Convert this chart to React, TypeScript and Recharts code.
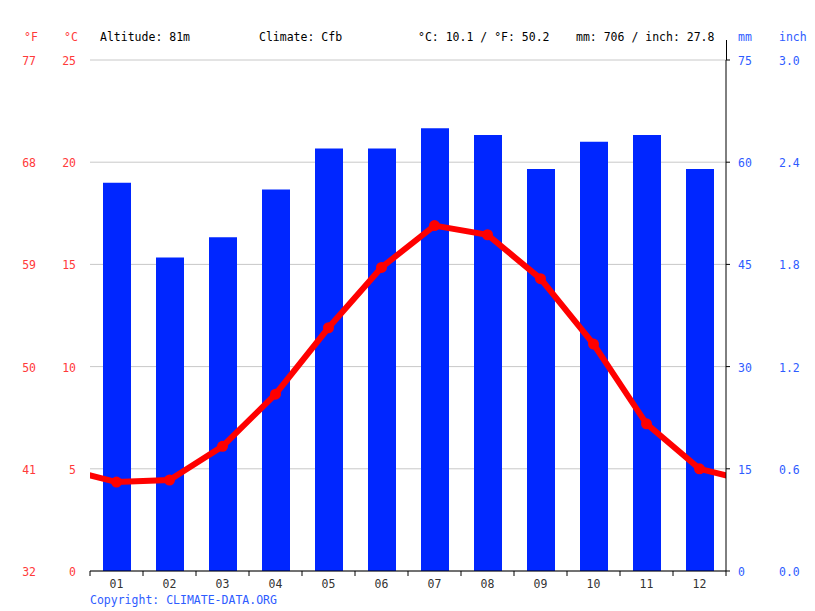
import React from "react";
import {
  ComposedChart,
  Bar,
  Line,
  XAxis,
  YAxis,
  CartesianGrid,
} from "recharts";

const months = ["01", "02", "03", "04", "05", "06", "07", "08", "09", "10", "11", "12"];
const precipMm = [57, 46, 49, 56, 62, 62, 65, 64, 59, 63, 64, 59];
const tempC = [4.35, 4.45, 6.1, 8.65, 11.9, 14.85, 16.9, 16.45, 14.3, 11.1, 7.2, 5.0];

const celsiusTicks = [0, 5, 10, 15, 20, 25];
const fahrenheitTicks = [32, 41, 50, 59, 68, 77];
const mmTicks = [0, 15, 30, 45, 60, 75];
const inchTicks = ["0.0", "0.6", "1.2", "1.8", "2.4", "3.0"];

// month 0 and 13 wrap around the year so the line runs off both edges
const data = [
  { m: 0, temp: tempC[11], precip: null },
  ...months.map((label, i) => ({ m: i + 1, label, temp: tempC[i], precip: precipMm[i] })),
  { m: 13, temp: tempC[0], precip: null },
];

const W = 815;
const H = 611;
const PLOT_LEFT = 90;
const PLOT_RIGHT = 726;
const PLOT_TOP = 60;
const PLOT_BOTTOM = 571;
const HALF_BAND = (PLOT_RIGHT - PLOT_LEFT) / 12 / 2;

const RED = "#ff0000";
const LABEL_RED = "#ff3a3a";
const BLUE = "#0026ff";
const LABEL_BLUE = "#2e5cff";
const FONT = "'DejaVu Sans Mono', monospace";

const MonthTick = (props: any) => {
  const { x, y, payload, index } = props;
  return (
    <g>
      <line x1={x - HALF_BAND} x2={x - HALF_BAND} y1={y - 8} y2={y - 3} stroke="#000" />
      {index === 11 && (
        <line x1={x + HALF_BAND} x2={x + HALF_BAND} y1={y - 8} y2={y - 3} stroke="#000" />
      )}
      <text x={x} y={y + 9} textAnchor="middle" fill="#333" fontSize={11.5} fontFamily={FONT}>
        {months[payload.value - 1]}
      </text>
    </g>
  );
};

const TempTick = (props: any) => {
  const { y, index } = props;
  return (
    <g>
      <text x={36} y={y + 5} textAnchor="end" fill={LABEL_RED} fontSize={11.5} fontFamily={FONT}>
        {fahrenheitTicks[index]}
      </text>
      <text x={76} y={y + 5} textAnchor="end" fill={LABEL_RED} fontSize={11.5} fontFamily={FONT}>
        {celsiusTicks[index]}
      </text>
    </g>
  );
};

const PrecipTick = (props: any) => {
  const { y, index } = props;
  return (
    <g>
      <text x={738} y={y + 5} textAnchor="start" fill={LABEL_BLUE} fontSize={11.5} fontFamily={FONT}>
        {mmTicks[index]}
      </text>
      <text x={779} y={y + 5} textAnchor="start" fill={LABEL_BLUE} fontSize={11.5} fontFamily={FONT}>
        {inchTicks[index]}
      </text>
    </g>
  );
};

const TempDot = (props: any) => {
  const { cx, cy, payload, index } = props;
  if (payload.m < 1 || payload.m > 12) return <g key={index} />;
  return <circle key={index} cx={cx} cy={cy} r={5.5} fill={RED} />;
};

const headerStyle = (left: number, color: string): React.CSSProperties => ({
  position: "absolute",
  left,
  top: 30,
  fontFamily: FONT,
  fontSize: 11.5,
  color,
  whiteSpace: "pre",
  lineHeight: "14px",
});

export default function App() {
  return (
    <div style={{ position: "absolute", left: 0, top: 0, width: W, height: H, background: "#fff" }}>
      <div style={headerStyle(24, LABEL_RED)}>°F</div>
      <div style={headerStyle(64, LABEL_RED)}>°C</div>
      <div style={headerStyle(100, "#000")}>Altitude: 81m</div>
      <div style={headerStyle(259, "#000")}>Climate: Cfb</div>
      <div style={headerStyle(418, "#000")}>°C: 10.1 / °F: 50.2</div>
      <div style={headerStyle(576, "#000")}>mm: 706 / inch: 27.8</div>
      <div style={headerStyle(738, LABEL_BLUE)}>mm</div>
      <div style={headerStyle(779, LABEL_BLUE)}>inch</div>
      <div
        style={{
          position: "absolute",
          left: PLOT_RIGHT,
          top: 40,
          width: 1,
          height: PLOT_TOP - 40,
          background: "#000",
        }}
      />
      <ComposedChart
        width={W}
        height={H}
        data={data}
        margin={{ top: PLOT_TOP, right: 0, bottom: H - PLOT_BOTTOM - 24, left: 0 }}
      >
        <CartesianGrid vertical={false} stroke="#c8c8c8" yAxisId="temp" />
        <XAxis
          dataKey="m"
          type="number"
          domain={[0.5, 12.5]}
          ticks={[1, 2, 3, 4, 5, 6, 7, 8, 9, 10, 11, 12]}
          allowDataOverflow
          height={24}
          axisLine={{ stroke: "#000" }}
          tickLine={false}
          tick={<MonthTick />}
          interval={0}
        />
        <YAxis
          yAxisId="temp"
          domain={[0, 25]}
          ticks={celsiusTicks}
          width={PLOT_LEFT}
          axisLine={false}
          tickLine={false}
          tick={<TempTick />}
          interval={0}
        />
        <YAxis
          yAxisId="precip"
          orientation="right"
          domain={[0, 75]}
          ticks={mmTicks}
          width={W - PLOT_RIGHT}
          axisLine={{ stroke: "#000" }}
          tickLine={{ stroke: "#000" }}
          tickSize={4}
          tick={<PrecipTick />}
          interval={0}
        />
        <Bar
          yAxisId="precip"
          dataKey="precip"
          fill={BLUE}
          barSize={28}
          isAnimationActive={false}
        />
        <Line
          yAxisId="temp"
          dataKey="temp"
          stroke={RED}
          strokeWidth={6}
          dot={<TempDot />}
          activeDot={false}
          isAnimationActive={false}
        />
      </ComposedChart>
      <div
        style={{
          position: "absolute",
          left: 90,
          top: 593,
          fontFamily: FONT,
          fontSize: 11.5,
          color: LABEL_BLUE,
          whiteSpace: "pre",
        }}
      >
        Copyright: CLIMATE-DATA.ORG
      </div>
    </div>
  );
}
